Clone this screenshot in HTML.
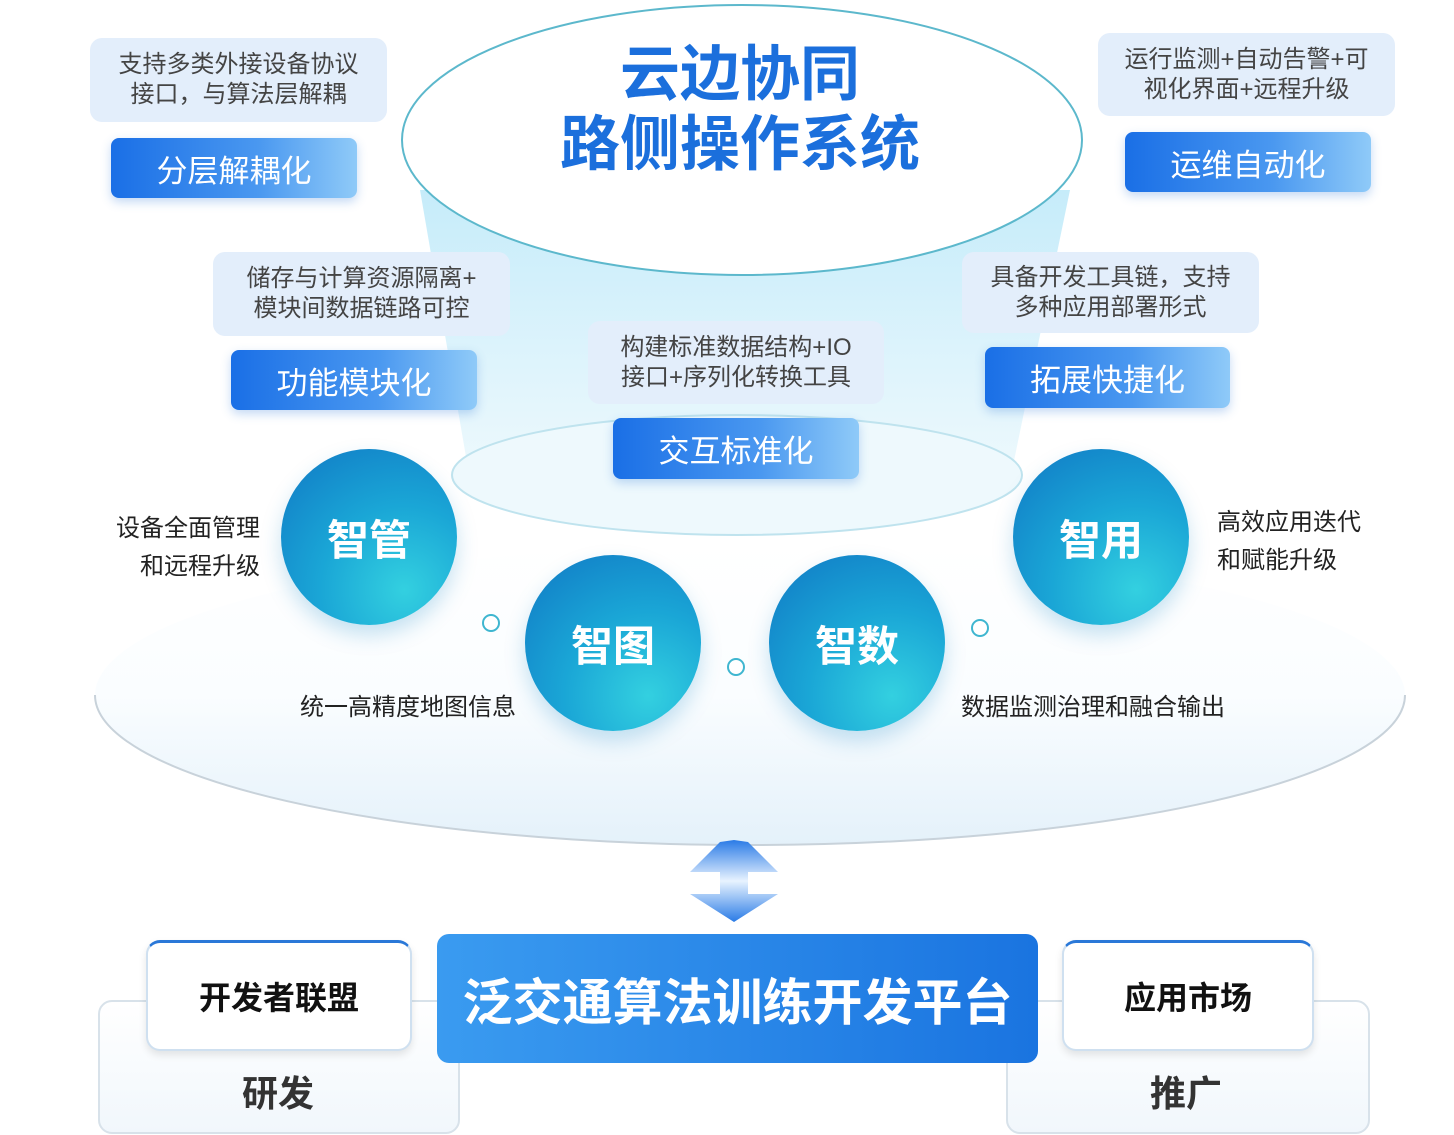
<!DOCTYPE html>
<html><head><meta charset="utf-8">
<style>
body{margin:0;width:1454px;height:1135px;background:#fff;position:relative;overflow:hidden;font-family:"Liberation Sans","Noto Sans CJK SC",sans-serif}
.a{position:absolute}
.lb{position:absolute;background:#e3eefb;border-radius:12px;color:#444;font-size:24px;line-height:30px;text-align:center;display:flex;align-items:center;justify-content:center}
.pill{position:absolute;border-radius:8px;background:linear-gradient(90deg,#1a6fe6,#4a98f0 60%,#8fcaf8);color:#fff;font-size:31px;display:flex;align-items:center;justify-content:center;box-shadow:0 4px 10px rgba(60,130,220,.3)}
.c{position:absolute;width:176px;height:176px;border-radius:50%;background:radial-gradient(circle at 70% 80%,#33d0e0,#1aa6d6 45%,#1077c4 100%);color:#fff;font-size:42px;font-weight:bold;display:flex;align-items:center;justify-content:center;box-shadow:0 10px 20px rgba(30,140,200,.25)}
.sc{position:absolute;width:14px;height:14px;border:2px solid #3fb6d0;border-radius:50%;background:#fff}
.t{position:absolute;font-size:24px;color:#222;line-height:38px}
</style></head><body>
<svg class="a" style="left:0;top:0" width="1454" height="1135">
<defs>
<linearGradient id="fun" x1="0" y1="0" x2="0" y2="1"><stop offset="0" stop-color="#c6ecfa"/><stop offset="1" stop-color="#eef9fd"/></linearGradient>
<linearGradient id="base" x1="0" y1="0" x2="0" y2="1"><stop offset="0" stop-color="#ffffff"/><stop offset=".5" stop-color="#fafdff"/><stop offset="1" stop-color="#e4f1fa"/></linearGradient>
<linearGradient id="arr" x1="0" y1="0" x2="0" y2="1"><stop offset="0" stop-color="#2a7be6"/><stop offset=".5" stop-color="#e8f3ff"/><stop offset="1" stop-color="#2a7be6"/></linearGradient>
</defs>
<ellipse cx="750" cy="695" rx="655" ry="150" fill="url(#base)"/>
<path d="M95 695 A655 150 0 0 0 1405 695" fill="none" stroke="#c8d2da" stroke-width="2"/>
<path d="M420 190 L470 480 L1010 480 L1070 190 Z" fill="url(#fun)"/>
<ellipse cx="737" cy="475" rx="285" ry="60" fill="#eef9fd" stroke="#bfe3ee" stroke-width="2"/>
<ellipse cx="742" cy="140" rx="340" ry="135" fill="#fff" stroke="#5cb8cc" stroke-width="2"/>
<path d="M720 842 L690 872 L720 872 L720 894 L690 894 L734 922 L778 894 L748 894 L748 872 L778 872 L748 842 L734 840 Z" fill="url(#arr)"/>
</svg>
<div class="a" style="left:440px;top:40px;width:600px;text-align:center;color:#1b6fdc;font-size:60px;font-weight:bold;line-height:70px">云边协同<br>路侧操作系统</div>

<div class="lb" style="left:90px;top:38px;width:297px;height:84px">支持多类外接设备协议<br>接口，与算法层解耦</div>
<div class="pill" style="left:111px;top:138px;width:246px;height:60px">分层解耦化</div>
<div class="lb" style="left:1098px;top:33px;width:297px;height:83px">运行监测+自动告警+可<br>视化界面+远程升级</div>
<div class="pill" style="left:1125px;top:132px;width:246px;height:60px">运维自动化</div>
<div class="lb" style="left:213px;top:252px;width:297px;height:84px">储存与计算资源隔离+<br>模块间数据链路可控</div>
<div class="pill" style="left:231px;top:350px;width:246px;height:60px">功能模块化</div>
<div class="lb" style="left:962px;top:252px;width:297px;height:81px">具备开发工具链，支持<br>多种应用部署形式</div>
<div class="pill" style="left:985px;top:347px;width:245px;height:61px">拓展快捷化</div>
<div class="lb" style="left:588px;top:321px;width:296px;height:83px">构建标准数据结构+IO<br>接口+序列化转换工具</div>
<div class="pill" style="left:613px;top:418px;width:246px;height:61px">交互标准化</div>

<div class="c" style="left:281px;top:449px">智管</div>
<div class="c" style="left:1013px;top:449px">智用</div>
<div class="c" style="left:525px;top:555px">智图</div>
<div class="c" style="left:769px;top:555px">智数</div>
<div class="sc" style="left:482px;top:614px"></div>
<div class="sc" style="left:727px;top:658px"></div>
<div class="sc" style="left:971px;top:619px"></div>
<div class="t" style="left:100px;top:510px;width:160px;text-align:right">设备全面管理<br>和远程升级</div>
<div class="t" style="left:1217px;top:504px">高效应用迭代<br>和赋能升级</div>
<div class="t" style="left:300px;top:689px">统一高精度地图信息</div>
<div class="t" style="left:961px;top:689px">数据监测治理和融合输出</div>

<div class="a" style="left:98px;top:1000px;width:358px;height:130px;border:2px solid #d8e2ea;border-radius:14px;background:linear-gradient(#fff,#f1f7fc)"></div>
<div class="a" style="left:1006px;top:1000px;width:360px;height:130px;border:2px solid #d8e2ea;border-radius:14px;background:linear-gradient(#fff,#f1f7fc)"></div>
<div class="a" style="left:146px;top:940px;width:262px;height:106px;background:#fff;border:2px solid #cfe0f0;border-top:3px solid #2a78d8;border-radius:14px;box-shadow:0 4px 8px rgba(0,0,0,.1);display:flex;align-items:center;justify-content:center;font-size:32px;font-weight:bold;color:#111">开发者联盟</div>
<div class="a" style="left:1062px;top:940px;width:248px;height:106px;background:#fff;border:2px solid #cfe0f0;border-top:3px solid #2a78d8;border-radius:14px;box-shadow:0 4px 8px rgba(0,0,0,.1);display:flex;align-items:center;justify-content:center;font-size:32px;font-weight:bold;color:#111">应用市场</div>
<div class="a" style="left:98px;top:1065px;width:360px;text-align:center;font-size:36px;font-weight:bold;color:#333">研发</div>
<div class="a" style="left:1006px;top:1065px;width:360px;text-align:center;font-size:36px;font-weight:bold;color:#333">推广</div>
<div class="a" style="left:437px;top:934px;width:601px;height:129px;border-radius:12px;background:linear-gradient(90deg,#3a9bf0,#1a74e0);display:flex;align-items:center;justify-content:center;color:#fff;font-size:50px;font-weight:bold">泛交通算法训练开发平台</div>
</body></html>
